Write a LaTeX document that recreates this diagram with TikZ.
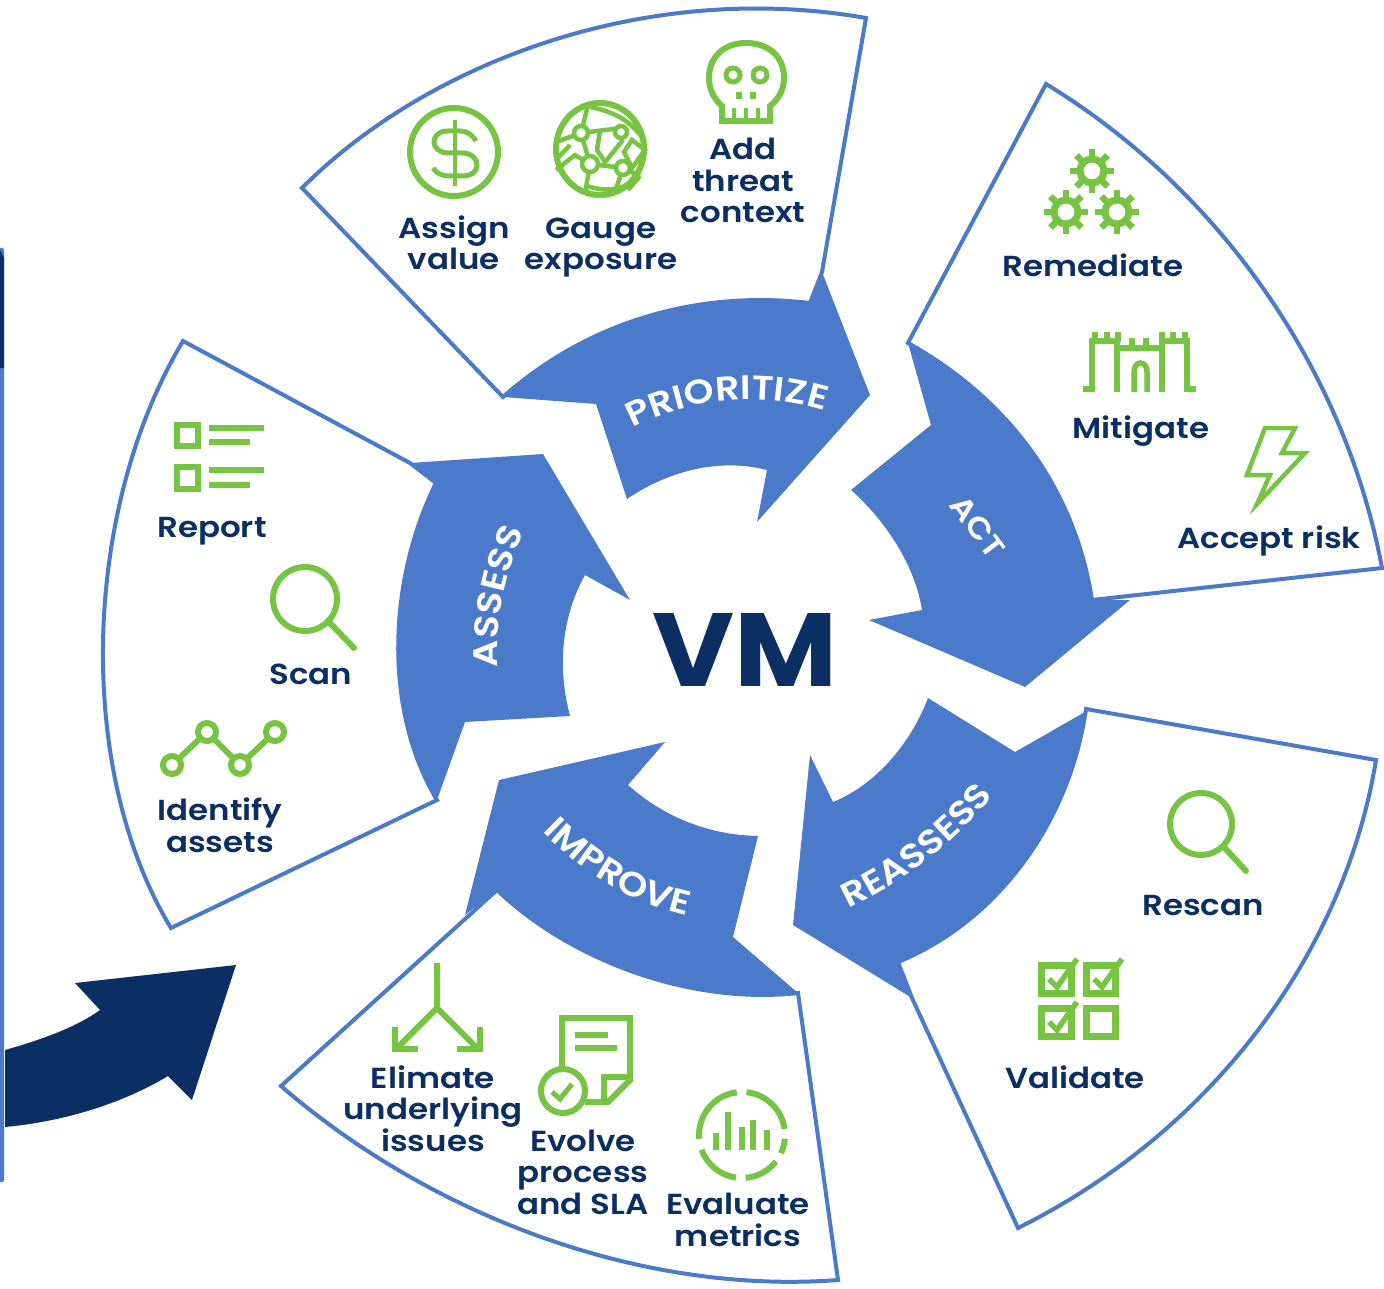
\documentclass[tikz,border=0pt]{standalone}
\usepackage{fontspec}
\setmainfont{Poppins}[BoldFont={Poppins SemiBold},BoldFeatures={FakeStretch=1.12}]
\newfontfamily\vmfont{Poppins}[BoldFeatures={FakeStretch=1.08}]
\usetikzlibrary{decorations.text}
\definecolor{navy}{HTML}{0B2F63}
\definecolor{leaf}{HTML}{76C442}
\definecolor{azure}{HTML}{4A7AC9}
\newcommand\capfont{\fontsize{29}{31.5}\selectfont\bfseries}
\newcommand\arrfont{\fontsize{34}{36}\selectfont\bfseries\color{white}}
\newcommand\actfont{\fontsize{30}{32}\selectfont\bfseries\color{white}}
\tikzset{
  panel/.style={draw=azure,fill=white,line width=4pt,line join=miter},
  flow/.style={fill=azure},
  captxt/.style={font=\capfont,text=navy,align=center,inner sep=0pt,text height=26pt,text depth=6pt},
  ico/.style={draw=leaf,line width=6pt},
  icothin/.style={draw=leaf,line width=4.5pt},
  barico/.style={leaf,line width=6pt},
}
\newcommand\gearicon[2]{%
  \draw[leaf,line width=7pt] (#1,#2) circle[radius=12pt];
  \foreach \a in {0,45,...,315}{\draw[leaf,line width=6.5pt] ([shift={(#1,#2)}]\a:13pt) -- ([shift={(#1,#2)}]\a:22pt);}
}
\newcommand\checkicon[2]{%
  \draw[leaf,line width=5.5pt,line join=miter] (#1+10,#2+17) -- (#1+18,#2+25) -- (#1+38,#2-3);
}
\begin{document}
\begin{tikzpicture}[x=1pt,y=-1pt]
\useasboundingbox (0,0) rectangle (1384,1289);
\fill[white] (0,0) rectangle (1384,1289);
% left bar
\fill[azure,rounded corners=2pt] (-6,248) rectangle (4,1182);
\fill[navy] (0,250) -- (4,258) -- (4,368) -- (0,368) -- cycle;
% big arrow
\fill[navy] (5,1050) .. controls (40,1040) and (75,1028) .. (100,1010) -- (75,983) -- (236,965) -- (192,1100) -- (168,1076) .. controls (120,1105) and (60,1122) .. (5,1127) -- cycle;
% panels
\draw[panel] (302,188) .. controls (430,60) and (650,-20) .. (866,18) -- (822,272) -- (810,303) .. controls (700,290) and (590,320) .. (503,397) -- cycle;
\draw[panel] (1046,84) .. controls (1220,190) and (1345,370) .. (1382,568) -- (1092,600) .. controls (1075,490) and (1010,400) .. (908,343) -- cycle;
\draw[panel] (1086,709) -- (1376,760) .. controls (1345,950) and (1215,1130) .. (1018,1228) -- (912,998) -- (898,962) .. controls (1000,920) and (1070,820) .. (1086,709) -- cycle;
\draw[panel] (798,993) -- (838,1280) .. controls (640,1295) and (430,1215) .. (281,1086) -- (497,890) .. controls (570,960) and (690,1005) .. (798,993) -- cycle;
\draw[panel] (183,341) -- (410,463) -- (436,483) .. controls (388,580) and (383,710) .. (437,800) -- (171,928) .. controls (75,770) and (82,510) .. (183,341) -- cycle;
% flow arrows
\fill[flow] (503,397) .. controls (590,320) and (700,290) .. (810,303) -- (822,272) -- (870,395) -- (757,522) -- (767,470) .. controls (720,458) and (670,470) .. (627,499) -- (596,404) -- cycle;
\fill[flow] (908,343) .. controls (1010,400) and (1075,490) .. (1092,600) -- (1130,600) -- (1025,687) -- (869,620) -- (922,610) .. controls (915,565) and (885,520) .. (851,490) -- (931,425) -- cycle;
\fill[flow] (1085,712) .. controls (1070,820) and (1000,920) .. (898,962) -- (912,998) -- (793,925) -- (810,755) -- (833,802) .. controls (875,785) and (910,745) .. (928,698) -- (1015,752) -- cycle;
\fill[flow] (497,890) .. controls (570,960) and (690,1005) .. (798,993) -- (733,937) -- (758,836) .. controls (710,835) and (665,818) .. (628,785) -- (665,742) -- (499,780) -- (465,915) -- cycle;
\fill[flow] (436,483) .. controls (388,580) and (383,710) .. (437,800) -- (465,722) -- (570,716) .. controls (558,670) and (560,620) .. (585,575) -- (630,600) -- (543,454) -- (410,463) -- cycle;
% flow labels
\path[decorate,decoration={text along path,text align=center,text={|\arrfont|PRIORITIZE}}] (605,445) .. controls (685,389) and (780,389) .. (855,422);
\node[font=\actfont,text=white,rotate=-53,inner sep=0pt] (actlabel) at (978,527) {ACT};
\path[decorate,decoration={text along path,text align=center,text={|\arrfont|REASSESS}}] (825,918) .. controls (890,893) and (960,845) .. (1008,775);
\path[decorate,decoration={text along path,text align=center,text={|\arrfont|IMPROVE}}] (523,810) .. controls (573,870) and (643,914) .. (715,920);
\path[decorate,decoration={text along path,text align=center,text={|\arrfont|ASSESS}}] (500,690) .. controls (492,630) and (505,565) .. (535,510);
% centre
\node[font=\vmfont\fontsize{104}{104}\selectfont\bfseries,text=navy,inner sep=0pt] (vm) at (745,650) {VM};
% captions
\node[captxt] (c1) at (454,260) {Assign\\value};
\node[captxt] (c2) at (601,260) {Gauge\\exposure};
\node[captxt] (c3) at (743,213) {Add\\threat\\context};
\node[captxt] (c4) at (1093,267) {Remediate};
\node[captxt] (c5) at (1141,428) {Mitigate};
\node[captxt] (c6) at (1269,538) {Accept risk};
\node[captxt] (c7) at (1203,905) {Rescan};
\node[captxt] (c8) at (1075,1078) {Validate};
\node[captxt] (c9) at (433,1141) {Elimate\\underlying\\issues};
\node[captxt] (c10) at (583,1204) {Evolve\\process\\and SLA};
\node[captxt] (c11) at (738,1236) {Evaluate\\metrics};
\node[captxt] (c12) at (212,527) {Report};
\node[captxt] (c13) at (311,674) {Scan};
\node[captxt] (c14) at (220,842) {Identify\\assets};
% dollar
\draw[ico] (454,152) ellipse[x radius=44pt,y radius=44pt];
\draw[icothin] (455,120) -- (455,186);
\draw[icothin,line width=5pt] (476,141) .. controls (472,134) and (466,131) .. (460,131) -- (448,131) .. controls (438,131) and (434,137) .. (434,142) .. controls (434,148) and (440,153) .. (448,153) -- (462,153) .. controls (472,153) and (477,159) .. (477,165) .. controls (477,172) and (471,176) .. (462,176) -- (448,176) .. controls (442,176) and (436,173) .. (433,168);
% globe
\draw[ico] (600,149) ellipse[x radius=44pt,y radius=46pt];
\draw[icothin] (588,105) -- (581,133) -- (556,142);
\draw[icothin] (590,107) .. controls (618,112) and (635,125) .. (645,142);
\draw[icothin] (581,133) -- (590,164) (581,133) -- (621,128);
\draw[icothin] (600,131) -- (597,150) -- (605,162) -- (623,140) (590,164) -- (623,168);
\draw[icothin] (556,170) -- (575,155) -- (590,164) -- (585,194) (556,160) -- (570,145);
\draw[icothin] (587,186) .. controls (605,192) and (620,190) .. (632,182);
\draw[icothin] (623,168) -- (640,176) (623,168) -- (615,192) (640,176) -- (628,190);
\draw[icothin] (632,140) -- (645,150) -- (632,168) -- (624,152) -- cycle;
\foreach \p/\r in {{581,133}/7,{621,132}/6,{590,164}/8,{623,168}/7}{\draw[icothin,fill=white] (\p) circle[radius=\r pt];}
% skull
\draw[ico,line join=miter] (722,121) -- (722,106) .. controls (713,98) and (709,88) .. (709,78) .. controls (709,56) and (725,43) .. (746,43) .. controls (768,43) and (784,56) .. (784,78) .. controls (784,88) and (780,98) .. (770,106) -- (770,121) -- cycle;
\draw[ico,line width=5pt] (733,75) circle[radius=7pt] (760,75) circle[radius=7pt];
\fill[leaf] (736,92) rectangle (742,99) (750,92) rectangle (756,99);
\draw[icothin] (734,108) -- (734,120) (746,108) -- (746,120) (758,108) -- (758,120);
% gears
\gearicon{1092}{171}
\gearicon{1066}{212}
\gearicon{1117}{212}
% castle
\draw[ico,line width=6.5pt,line join=miter] (1083,389) -- (1092,389) -- (1092,341) -- (1117,341) -- (1117,392);
\draw[ico,line width=6.5pt,line join=miter] (1196,389) -- (1187,389) -- (1187,341) -- (1162,341) -- (1162,392);
\draw[ico,line width=6.5pt] (1117,348) -- (1162,348);
\draw[ico,line width=5.5pt] (1134,392) -- (1134,372) .. controls (1134,360) and (1147,360) .. (1147,372) -- (1147,392);
\foreach \x in {1095,1107,1118,1162,1173,1185}{\fill[leaf] (\x-3,332) rectangle (\x+3,342);}
\foreach \x in {1132,1146}{\fill[leaf] (\x-3,338) rectangle (\x+3,348);}
% bolt
\draw[ico,line width=4.5pt,line join=miter] (1265,428) -- (1295,428) -- (1282,453) -- (1305,453) -- (1257,504) -- (1270,475) -- (1247,475) -- cycle;
% report
\draw[ico,line width=6.5pt,line join=miter] (177,425) rectangle (198,446) (177,467) rectangle (198,489);
\draw[ico] (209,428) -- (264,428) (209,442) -- (250,442) (209,470) -- (264,470) (209,485) -- (250,485);
% scan
\draw[ico] (305,599) circle[radius=32pt];
\draw[ico,line cap=round] (329,622) -- (354,648);
% identify
\draw[ico] (172,765) -- (207,732) -- (240,765) -- (275,732);
\foreach \p in {{172,765},{207,732},{240,765},{275,732}}{\draw[ico,fill=white] (\p) circle[radius=9pt];}
% rescan
\draw[ico] (1201,824) circle[radius=31pt];
\draw[ico,line cap=round] (1224,847) -- (1246,871);
% validate
\draw[ico,line width=7pt,line join=miter] (1041,965) rectangle (1071,993) (1086,965) rectangle (1115,993) (1041,1008) rectangle (1071,1036) (1086,1008) rectangle (1115,1036);
\checkicon{1039}{962}
\checkicon{1084}{962}
\checkicon{1039}{1005}
% eliminate
\draw[ico] (437,963) -- (437,1008) -- (397,1048) (437,1008) -- (477,1048);
\draw[ico,line join=miter] (395,1027) -- (395,1049) -- (418,1049) (480,1027) -- (480,1049) -- (457,1049);
% document
\draw[ico,line join=miter] (562,1067) -- (562,1018) -- (630,1018) -- (630,1080) -- (608,1102) -- (585,1102);
\draw[ico,line join=miter] (630,1077) -- (604,1077) -- (604,1102);
\draw[ico] (575,1035) -- (608,1035) (575,1048) -- (617,1048);
\draw[ico,fill=white] (563,1091) circle[radius=22pt];
\draw[ico,line width=5pt] (552,1092) -- (560,1099) -- (572,1084);
% metrics
\foreach \s/\e in {97/185,200/262,275/322,335/355,8/84}{\draw[ico] ([shift={(742,1135)}]\s:43pt) arc[start angle=\s,end angle=\e,radius=43pt];}
\foreach \x/\t in {716/1133,728/1112,742/1127,753/1120,767/1130}{\draw[barico] (\x,\t) -- (\x,1150);}
\end{tikzpicture}
\end{document}
